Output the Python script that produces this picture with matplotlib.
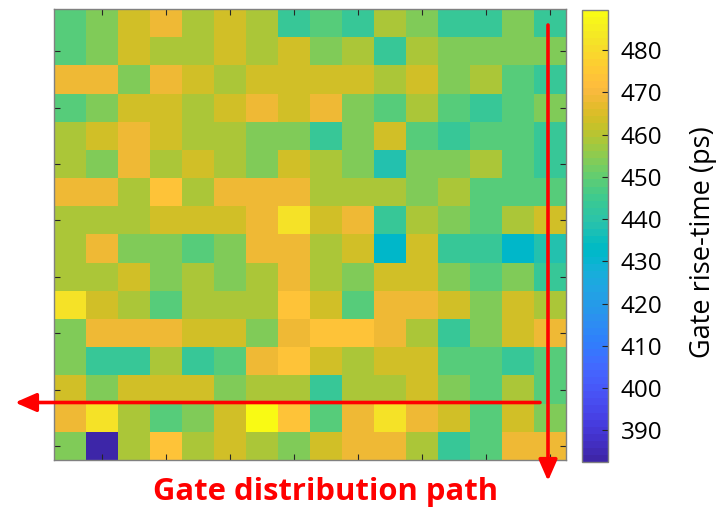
import numpy as np
import matplotlib
matplotlib.use("Agg")
import matplotlib.pyplot as plt
from matplotlib.colors import ListedColormap

# Gate rise-time (ps) per cell, rows top→bottom, columns left→right
row01 = [449, 454, 464, 469, 459, 464, 459, 444, 449, 444, 459, 454, 444, 444, 454, 444]
row02 = [449, 454, 464, 459, 459, 464, 459, 464, 454, 459, 444, 459, 454, 454, 454, 454]
row03 = [469, 469, 454, 469, 464, 459, 464, 464, 464, 464, 459, 464, 454, 459, 449, 444]
row04 = [449, 454, 464, 464, 459, 464, 469, 464, 469, 454, 449, 459, 449, 444, 449, 454]
row05 = [459, 464, 469, 464, 459, 459, 454, 454, 444, 454, 464, 449, 444, 449, 449, 444]
row06 = [459, 454, 469, 459, 464, 459, 454, 464, 459, 454, 438.5, 454, 454, 459, 449, 444]
row07 = [469, 469, 459, 474, 459, 469, 469, 469, 459, 459, 459, 454, 459, 449, 449, 449]
row08 = [459, 459, 459, 464, 464, 464, 469, 482, 464, 469, 444, 459, 454, 449, 459, 464]
row09 = [459, 469, 454, 454, 449, 454, 469, 469, 459, 464, 432, 464, 444, 444, 432, 438.5]
row10 = [459, 459, 464, 454, 459, 454, 459, 469, 459, 454, 464, 464, 454, 449, 454, 444]
row11 = [482, 464, 459, 449, 459, 459, 459, 474, 464, 449, 469, 469, 464, 454, 464, 459]
row12 = [454, 469, 469, 469, 464, 464, 454, 469, 474, 474, 469, 459, 444, 454, 464, 469]
row13 = [454, 444, 444, 459, 444, 449, 469, 474, 464, 459, 464, 464, 449, 449, 444, 449]
row14 = [464, 454, 464, 464, 464, 454, 459, 459, 444, 459, 459, 464, 454, 449, 459, 449]
row15 = [469, 482, 459, 449, 454, 464, 489.5, 474, 449, 469, 482, 469, 464, 449, 464, 454]
row16 = [454, 382.5, 459, 474, 459, 464, 459, 454, 464, 469, 469, 459, 444, 449, 469, 469]
rise_time = np.array([row01, row02, row03, row04, row05, row06, row07, row08,
                      row09, row10, row11, row12, row13, row14, row15, row16])

cbar_ticks = [390, 400, 410, 420, 430, 440, 450, 460, 470, 480]
cbar_label = "Gate rise-time (ps)"
path_label = "Gate distribution path"

# MATLAB parula (64 levels)
parula64 = [
    [0.2422, 0.1504, 0.6603], [0.2504, 0.1650, 0.7076], [0.2578, 0.1818, 0.7511],
    [0.2647, 0.1978, 0.7952], [0.2706, 0.2147, 0.8364], [0.2751, 0.2342, 0.8710],
    [0.2783, 0.2559, 0.8991], [0.2803, 0.2782, 0.9221], [0.2813, 0.3006, 0.9414],
    [0.2810, 0.3228, 0.9579], [0.2795, 0.3447, 0.9717], [0.2760, 0.3667, 0.9829],
    [0.2699, 0.3892, 0.9906], [0.2602, 0.4123, 0.9952], [0.2440, 0.4358, 0.9988],
    [0.2206, 0.4603, 0.9973], [0.1963, 0.4847, 0.9892], [0.1834, 0.5074, 0.9798],
    [0.1786, 0.5289, 0.9682], [0.1764, 0.5499, 0.9520], [0.1687, 0.5703, 0.9359],
    [0.1540, 0.5902, 0.9218], [0.1460, 0.6091, 0.9079], [0.1380, 0.6276, 0.8973],
    [0.1248, 0.6459, 0.8883], [0.1113, 0.6635, 0.8763], [0.0952, 0.6798, 0.8598],
    [0.0689, 0.6948, 0.8394], [0.0297, 0.7082, 0.8163], [0.0036, 0.7203, 0.7917],
    [0.0067, 0.7312, 0.7660], [0.0433, 0.7411, 0.7394], [0.0964, 0.7500, 0.7120],
    [0.1408, 0.7584, 0.6842], [0.1717, 0.7670, 0.6554], [0.1938, 0.7758, 0.6251],
    [0.2161, 0.7843, 0.5923], [0.2470, 0.7918, 0.5567], [0.2906, 0.7973, 0.5188],
    [0.3406, 0.8008, 0.4789], [0.3909, 0.8029, 0.4354], [0.4456, 0.8024, 0.3909],
    [0.5044, 0.7993, 0.3480], [0.5616, 0.7942, 0.3045], [0.6174, 0.7876, 0.2612],
    [0.6720, 0.7793, 0.2227], [0.7242, 0.7698, 0.1910], [0.7738, 0.7598, 0.1646],
    [0.8203, 0.7498, 0.1535], [0.8634, 0.7406, 0.1596], [0.9035, 0.7330, 0.1774],
    [0.9393, 0.7288, 0.2100], [0.9728, 0.7298, 0.2394], [0.9956, 0.7434, 0.2371],
    [0.9970, 0.7659, 0.2199], [0.9952, 0.7893, 0.2028], [0.9892, 0.8136, 0.1885],
    [0.9786, 0.8386, 0.1766], [0.9676, 0.8639, 0.1643], [0.9610, 0.8890, 0.1537],
    [0.9597, 0.9135, 0.1423], [0.9628, 0.9373, 0.1265], [0.9691, 0.9606, 0.1064],
    [0.9769, 0.9839, 0.0805]]
parula = ListedColormap(parula64, name="parula")

plt.rcParams['font.family'] = ['Open Sans', 'DejaVu Sans']

W, H = 719, 507
fig = plt.figure(figsize=(W / 100, H / 100), dpi=100)

ax = fig.add_axes([54 / W, 1 - 460 / H, 512 / W, 451 / H])
n_rows, n_cols = rise_time.shape
im = ax.imshow(rise_time, cmap=parula, aspect='auto', interpolation='nearest',
               extent=(0.5, n_cols + 0.5, n_rows + 0.5, 0.5),
               vmin=rise_time.min(), vmax=rise_time.max())
ax.set_xticks(np.arange(2, n_cols + 1, 2))
ax.set_yticks(np.arange(2, n_rows + 1, 2))
ax.set_xticklabels([])
ax.set_yticklabels([])
ax.tick_params(direction='in', length=4, width=0.8, color='#262626',
               top=True, right=True, bottom=True, left=True)
for s in ax.spines.values():
    s.set_color('#808080')
    s.set_linewidth(1.0)

cax = fig.add_axes([582 / W, 1 - 462 / H, 26 / W, 452 / H])
cb = fig.colorbar(im, cax=cax)
cb.set_ticks(cbar_ticks)
cb.ax.tick_params(direction='in', length=4, width=0.8, color='#262626',
                  labelsize=17.5, pad=9)
cb.outline.set_edgecolor('#808080')
cb.outline.set_linewidth(1.0)
fig.text(703 / W, 1 - 242 / H, cbar_label, rotation=90, ha='center', va='center',
         fontsize=19.5, color='black')

red = '#FF0000'
astyle = '-|>,head_length=0.8,head_width=0.35'
# horizontal arrow (pointing left)
ax.annotate('', xy=(15 / W, 1 - 402.5 / H), xytext=(540 / W, 1 - 402.5 / H),
            xycoords='figure fraction', textcoords='figure fraction',
            arrowprops=dict(arrowstyle=astyle, color=red, lw=2.6,
                            mutation_scale=16, shrinkA=0, shrinkB=0))
# vertical arrow (pointing down)
ax.annotate('', xy=(548 / W, 1 - 481 / H), xytext=(548 / W, 1 - 25 / H),
            xycoords='figure fraction', textcoords='figure fraction',
            arrowprops=dict(arrowstyle=astyle, color=red, lw=2.6,
                            mutation_scale=16, shrinkA=0, shrinkB=0))

fig.text(326 / W, 1 - 500 / H, path_label, ha='center', va='baseline',
         fontsize=22.3, fontweight='bold', color=red)

fig.savefig('out.png', dpi=100)
